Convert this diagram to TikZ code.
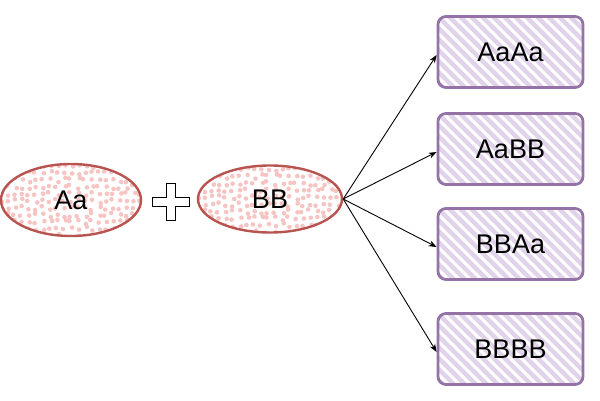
\documentclass[tikz,border=0pt]{standalone}
\usepackage{fontspec}
\setmainfont{Liberation Sans}
\usetikzlibrary{arrows.meta,shapes.geometric}
\definecolor{redstroke}{HTML}{B85450}
\definecolor{reddot}{HTML}{F6C4C2}
\definecolor{purstroke}{HTML}{9673A6}
\definecolor{purfill}{HTML}{E1D3E9}
\tikzset{
  lbl/.style={font=\fontsize{27}{32}\selectfont, text=black},
  dotted ellipse/.style={ellipse, draw=redstroke, line width=2.4pt, inner sep=0pt, lbl,
    path picture={
      \pgfmathsetseed{7}
      \foreach \gx in {0,7,...,160} \foreach \gy in {0,7,...,80} {
        \fill[reddot] ([xshift={\gx*1pt+rand*2.2pt}, yshift={\gy*1pt+rand*2.2pt}]path picture bounding box.south west) circle (2.3pt);
      }
    }},
  hatchbox/.style={rectangle, rounded corners=8pt, draw=purstroke, line width=2.8pt, lbl,
    minimum width=145pt, minimum height=71pt,
    path picture={
      \foreach \k in {-99,-88,...,170} {
        \draw[purfill, line width=4.5pt] ([xshift=\k pt]path picture bounding box.north west) -- ++(100pt,-100pt);
      }
    }},
  conn/.style={-{Stealth[length=8pt,width=6pt]}, line width=0.9pt, black},
}
\begin{document}
\begin{tikzpicture}[x=1pt,y=1pt]
\useasboundingbox (0,0) rectangle (600,400);
\node[dotted ellipse, minimum width=140pt, minimum height=72pt] (aa) at (71,200) {Aa};
\node[dotted ellipse, minimum width=144pt, minimum height=67pt] (bb) at (270,201) {BB};
% plus sign
\coordinate (plus) at (171,198);
\draw[line width=1.1pt, fill=white] ([shift={(-4.5,4.5)}]plus) -- ++(0,14) -- ++(9,0) -- ++(0,-14) -- ++(14,0) -- ++(0,-9) -- ++(-14,0) -- ++(0,-14) -- ++(-9,0) -- ++(0,14) -- ++(-14,0) -- ++(0,9) -- cycle;
\node[hatchbox] (b1) at (510.5,348) {AaAa};
\node[hatchbox] (b2) at (510.5,251) {AaBB};
\node[hatchbox] (b3) at (510.5,156) {BBAa};
\node[hatchbox] (b4) at (510.5,51) {BBBB};
\foreach \b in {b1,b2,b3,b4} {
  \draw[conn] (bb.east) -- ([yshift=-3pt]\b.west);
}
\end{tikzpicture}
\end{document}
